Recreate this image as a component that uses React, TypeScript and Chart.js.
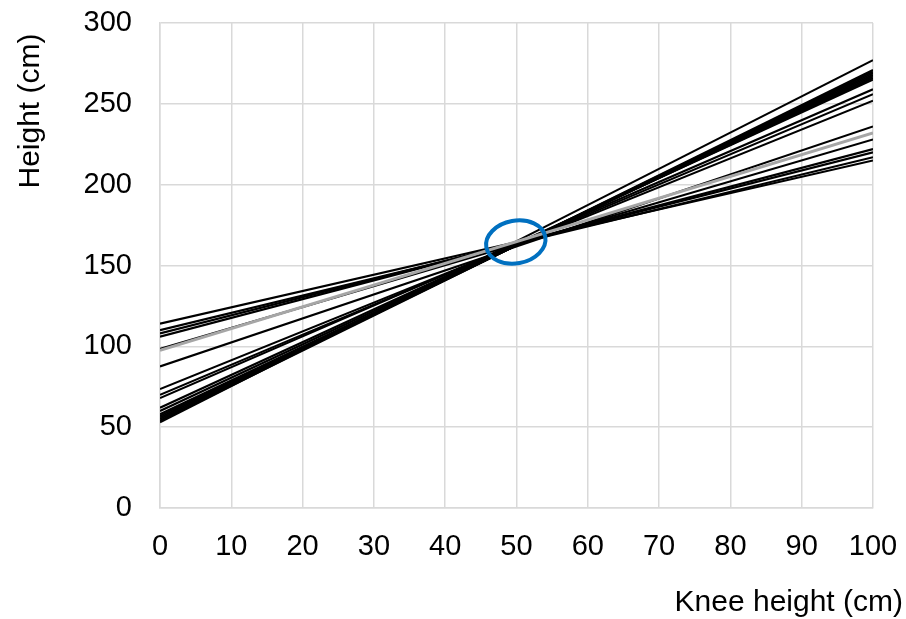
import React, { useEffect, useRef } from "react";
import { Chart, registerables } from "chart.js";

Chart.register(...registerables);

// Height predicted at knee height 0 cm and 100 cm for each regression line
const startHeights = [114, 110, 108, 106, 98.4, 97.5, 87.6, 73.6, 70, 68, 62, 60, 58, 57, 56, 55, 54, 53];
const endHeights = [215, 217, 220, 222, 228, 232, 236, 252, 256, 259, 265, 266, 267, 268, 269, 270, 271, 277];
const lineColors = ["#000", "#000", "#000", "#000", "#000", "#a6a6a6", "#000", "#000", "#000", "#000", "#000", "#000", "#000", "#000", "#000", "#000", "#000", "#000"];
const kneeRange = [0, 100];
const xTicks = [0, 10, 20, 30, 40, 50, 60, 70, 80, 90, 100];
const yTicks = [0, 50, 100, 150, 200, 250, 300];
const focus = { x: 49.9, y: 164.5, rx: 4.2, ry: 13.2 };
const xTitle = "Knee height (cm)";
const yTitle = "Height (cm)";

const FONT = "'Liberation Sans', Arial, sans-serif";

export default function App() {
  const ref = useRef<HTMLCanvasElement | null>(null);
  useEffect(() => {
    if (!ref.current) return;
    const datasets = startHeights.map((s, i) => ({
      data: [
        { x: kneeRange[0], y: s },
        { x: kneeRange[1], y: endHeights[i] },
      ],
      borderColor: lineColors[i],
      borderWidth: lineColors[i] === "#000" ? 2.1 : 3,
      showLine: true,
      pointRadius: 0,
      fill: false,
      order: lineColors[i] === "#000" ? 1 : 0,
    }));
    const overlay = {
      id: "overlay",
      afterDatasetsDraw(chart: any) {
        const { ctx, scales } = chart;
        const xs = scales.x, ys = scales.y;
        const cx = xs.getPixelForValue(focus.x);
        const cy = ys.getPixelForValue(focus.y);
        const rx = xs.getPixelForValue(focus.x + focus.rx) - cx;
        const ry = cy - ys.getPixelForValue(focus.y + focus.ry);
        ctx.save();
        ctx.beginPath();
        ctx.ellipse(cx, cy, rx, ry, -0.18, 0, Math.PI * 2);
        ctx.strokeStyle = "#0070c0";
        ctx.lineWidth = 4;
        ctx.stroke();
        ctx.restore();
      },
      afterDraw(chart: any) {
        const { ctx } = chart;
        ctx.save();
        ctx.fillStyle = "#000";
        ctx.font = `30px ${FONT}`;
        ctx.textAlign = "right";
        ctx.textBaseline = "middle";
        ctx.fillText(xTitle, 903, 603);
        ctx.translate(31, 111);
        ctx.rotate(-Math.PI / 2);
        ctx.textAlign = "center";
        ctx.fillText(yTitle, 0, 0);
        ctx.restore();
      },
    };
    const chart = new Chart(ref.current, {
      type: "scatter",
      data: { datasets },
      plugins: [overlay],
      options: {
        responsive: false,
        animation: false,
        events: [],
        layout: { padding: { top: 23, right: 33, left: 0, bottom: 0 } },
        plugins: { legend: { display: false }, tooltip: { enabled: false } },
        scales: {
          x: {
            type: "linear",
            min: 0,
            max: 100,
            afterBuildTicks: (s: any) => { s.ticks = xTicks.map((v) => ({ value: v })); },
            afterFit: (s: any) => { s.height = 111; s.paddingLeft = 0; s.paddingRight = 0; },
            ticks: { color: "#000", font: { family: FONT, size: 29 }, padding: 22, maxRotation: 0 },
            grid: { color: "#d9d9d9", lineWidth: 1.5, drawTicks: false },
            border: { color: "#d9d9d9", width: 1.5 },
          },
          y: {
            type: "linear",
            min: 0,
            max: 300,
            afterBuildTicks: (s: any) => { s.ticks = yTicks.map((v) => ({ value: v })); },
            afterFit: (s: any) => { s.width = 160; s.paddingTop = 0; s.paddingBottom = 0; },
            ticks: { color: "#000", font: { family: FONT, size: 29 }, padding: 28 },
            grid: { color: "#d9d9d9", lineWidth: 1.5, drawTicks: false },
            border: { color: "#d9d9d9", width: 1.5 },
          },
        },
      },
    } as any);
    return () => chart.destroy();
  }, []);
  return (
    <div style={{ position: "fixed", left: 0, top: 0, width: 906, height: 619, background: "#fff" }}>
      <canvas ref={ref} width={906} height={619} style={{ display: "block" }} />
    </div>
  );
}
